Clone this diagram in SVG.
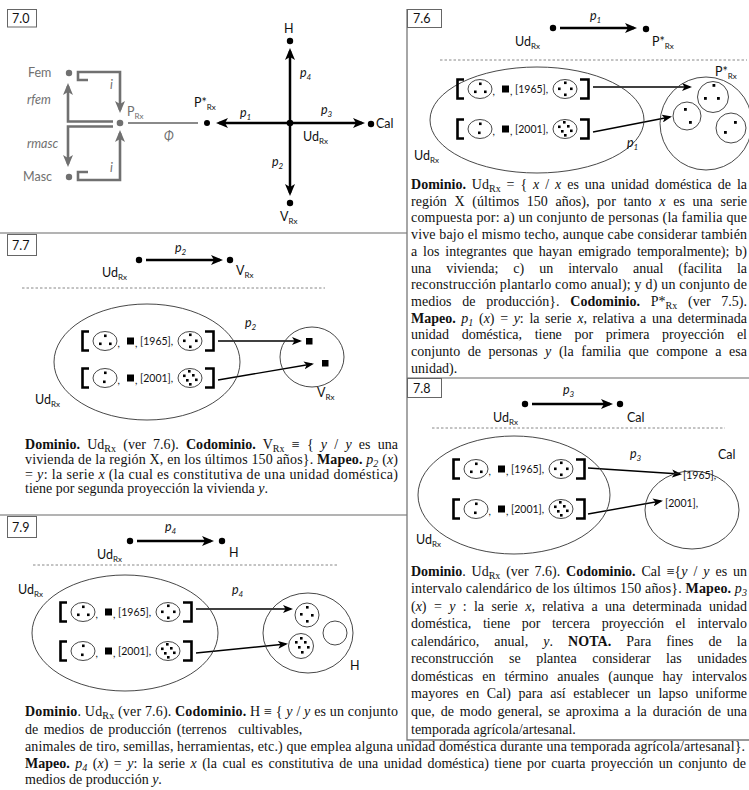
<svg xmlns="http://www.w3.org/2000/svg" width="749" height="790" viewBox="0 0 749 790">
<style>
.s{font-family:Lato,"Liberation Sans","DejaVu Sans",sans-serif;font-size:12.5px;fill:#111}
.gr{fill:#707070}
.i{font-style:italic}
.sb{font-size:8px}
.t{font-family:"Liberation Serif","Times New Roman",serif;font-size:14px;fill:#111}
.b{font-weight:bold}
.tsb{font-size:10px}
.lab{fill:none;stroke:#666;stroke-width:1}
.frame{fill:none;stroke:#777;stroke-width:1.3}
.sep{fill:none;stroke:#9a9a9a;stroke-width:1.6}
.dash{fill:none;stroke:#888;stroke-width:1;stroke-dasharray:2.5 2}
.k{fill:none;stroke:#000;stroke-width:2.5}
.kt{fill:none;stroke:#000;stroke-width:1.4}
.gl{fill:none;stroke:#707070;stroke-width:2.6}
.phi{fill:none;stroke:#8a8a8a;stroke-width:2}
.el{fill:none;stroke:#333;stroke-width:0.9}
.sc{fill:#fff;stroke:#333;stroke-width:0.9}
.br{fill:none;stroke:#000;stroke-width:2.6}
.num{font-family:Lato,"Liberation Sans",sans-serif;font-size:10.5px;fill:#111}
</style>
<defs>
<marker id="mk" viewBox="0 0 12 10" refX="9" refY="5" markerWidth="12" markerHeight="10" markerUnits="userSpaceOnUse" orient="auto"><path d="M0,0L12,5L0,10L3,5z" fill="#000"/></marker>
<marker id="mt" viewBox="0 0 10 8" refX="8" refY="4" markerWidth="10" markerHeight="8" markerUnits="userSpaceOnUse" orient="auto"><path d="M0,0L10,4L0,8L2.5,4z" fill="#000"/></marker>
<marker id="mg" viewBox="0 0 12 10" refX="9" refY="5" markerWidth="12" markerHeight="10" markerUnits="userSpaceOnUse" orient="auto"><path d="M0,0L12,5L0,10L3,5z" fill="#707070"/></marker>
<g id="tA">
<path class="br" d="M9,-9.5H2.5V9.5H9"/>
<ellipse class="sc" cx="25" cy="0" rx="12" ry="9.5"/>
<rect x="24" y="-6.5" width="2.6" height="2.6"/><rect x="19" y="1.5" width="2.6" height="2.6"/><rect x="29" y="1.5" width="2.6" height="2.6"/>
<text class="num" x="37.5" y="6">,</text>
<rect x="47" y="-3.5" width="7" height="7"/>
<text class="num" x="55" y="6">,</text>
<text class="num" x="60" y="4">[1965],</text>
<ellipse class="sc" cx="110" cy="0" rx="12" ry="9.5"/>
<rect x="109" y="-7.5" width="2.6" height="2.6"/><rect x="103" y="-1.5" width="2.6" height="2.6"/><rect x="115" y="-1.5" width="2.6" height="2.6"/><rect x="109" y="4.5" width="2.6" height="2.6"/>
<path class="br" d="M125,-9.5H133.5V9.5H125"/>
</g>
<g id="tB">
<path class="br" d="M9,-9.5H2.5V9.5H9"/>
<ellipse class="sc" cx="25" cy="0" rx="12" ry="9.5"/>
<rect x="24" y="-6.5" width="2.6" height="2.6"/><rect x="23" y="2.5" width="2.6" height="2.6"/>
<text class="num" x="37.5" y="6">,</text>
<rect x="47" y="-3.5" width="7" height="7"/>
<text class="num" x="55" y="6">,</text>
<text class="num" x="60" y="4">[2001],</text>
<ellipse class="sc" cx="110" cy="0" rx="12" ry="9.5"/>
<rect x="108" y="-8" width="2.6" height="2.6"/><rect x="103" y="-3.5" width="2.6" height="2.6"/><rect x="112" y="-4" width="2.6" height="2.6"/><rect x="115" y="0.5" width="2.6" height="2.6"/><rect x="106" y="1" width="2.6" height="2.6"/><rect x="109" y="5" width="2.6" height="2.6"/>
<path class="br" d="M125,-9.5H133.5V9.5H125"/>
</g>
</defs>
<rect width="749" height="790" fill="#fff"/>

<g id="frames">
<path class="sep" d="M0,233H407M0,515H407M407,378H749"/>
<path class="frame" d="M407,9V740H749"/>
</g>

<g id="connectors">
<path class="gl" d="M88,80H78V72H120V110" marker-end="url(#mg)"/>
<path class="gl" d="M88,172H78V180H120V133" marker-end="url(#mg)"/>
<path class="gl" d="M113,121.5H68V86" marker-end="url(#mg)"/>
<path class="gl" d="M113,126.5H68V164" marker-end="url(#mg)"/>
<path class="phi" d="M128,123H198"/>
<path class="k" d="M287,123H219" marker-end="url(#mk)"/>
<path class="k" d="M290,120V51" marker-end="url(#mk)"/>
<path class="k" d="M293,123H362" marker-end="url(#mk)"/>
<path class="k" d="M290,126V193" marker-end="url(#mk)"/>
<path class="k" d="M146,260H220" marker-end="url(#mk)"/>
<path class="kt" d="M218,341H300" marker-end="url(#mt)"/>
<path class="kt" d="M218,380L312,364" marker-end="url(#mt)"/>
<path class="k" d="M137,541H211" marker-end="url(#mk)"/>
<path class="kt" d="M196,609H291" marker-end="url(#mt)"/>
<path class="kt" d="M196,653L286,644" marker-end="url(#mt)"/>
<path class="k" d="M560,28H634" marker-end="url(#mk)"/>
<path class="kt" d="M593,87H690" marker-end="url(#mt)"/>
<path class="kt" d="M593,132L670,117" marker-end="url(#mt)"/>
<path class="k" d="M532,404H610" marker-end="url(#mk)"/>
<path class="kt" d="M588,468L680,474" marker-end="url(#mt)"/>
<path class="kt" d="M588,514L661,501" marker-end="url(#mt)"/>
</g>

<g id="p70">
<rect class="lab" x="7.5" y="9.5" width="29" height="17.5"/>
<text class="s" x="12" y="23">7.0</text>
<g id="n-fem"><text class="s gr" x="28" y="77">Fem</text><circle cx="69" cy="73" r="3.2" fill="#707070"/></g>
<g id="n-masc"><text class="s gr" x="23" y="181">Masc</text><circle cx="69" cy="177" r="3.2" fill="#707070"/></g>
<g id="n-prx"><circle cx="120" cy="123" r="3.3" fill="#707070"/><text class="s gr" x="127" y="116">P<tspan class="sb" dy="2.5">Rx</tspan></text></g>
<g id="n-pstar"><circle cx="207" cy="123" r="3"/><text class="s" x="194" y="107">P*<tspan class="sb" dy="3">Rx</tspan></text></g>
<g id="n-ud"><circle cx="290" cy="123" r="3.3"/><text class="s" x="303" y="141">Ud<tspan class="sb" dy="3">Rx</tspan></text></g>
<g id="n-h"><circle cx="290" cy="41" r="3.2"/><text class="s" x="284" y="33">H</text></g>
<g id="n-cal"><circle cx="371" cy="124" r="3.2"/><text class="s" x="376" y="128">Cal</text></g>
<g id="n-v"><circle cx="290" cy="203" r="3.2"/><text class="s" x="280" y="221">V<tspan class="sb" dy="3">Rx</tspan></text></g>
<text class="s gr i" x="27" y="104">rfem</text>
<text class="s gr i" x="27" y="148">rmasc</text>
<text class="s gr i" x="110" y="89">i</text>
<text class="s gr i" x="110" y="172">i</text>
<text class="s gr i" x="164" y="141">Φ</text>
<text class="s i" x="240" y="117">p<tspan class="sb" dy="3">1</tspan></text>
<text class="s i" x="300" y="77">p<tspan class="sb" dy="3">4</tspan></text>
<text class="s i" x="321" y="114">p<tspan class="sb" dy="3">3</tspan></text>
<text class="s i" x="272" y="166">p<tspan class="sb" dy="3">2</tspan></text>
</g>

<g id="p77">
<rect class="lab" x="7.5" y="234.5" width="29" height="21"/>
<text class="s" x="12" y="250">7.7</text>
<text class="s i" x="175" y="252">p<tspan class="sb" dy="3">2</tspan></text>
<circle cx="139" cy="260" r="3.2"/><circle cx="230" cy="260" r="3.2"/>
<text class="s" x="102" y="277">Ud<tspan class="sb" dy="3">Rx</tspan></text>
<text class="s" x="236" y="275">V<tspan class="sb" dy="3">Rx</tspan></text>
<path class="dash" d="M22,288H325"/>
<g id="ud77"><ellipse class="el" cx="147" cy="362" rx="93" ry="58"/>
<use href="#tA" x="80" y="341"/><use href="#tB" x="80" y="378"/>
<text class="s" x="35" y="404">Ud<tspan class="sb" dy="3">Rx</tspan></text></g>
<g id="v77"><ellipse class="el" cx="312" cy="357" rx="32" ry="30"/>
<rect x="306" y="338" width="6.5" height="6.5"/><rect x="322" y="360" width="6.5" height="6.5"/>
<text class="s" x="317" y="397">V<tspan class="sb" dy="3">Rx</tspan></text></g>
<text class="s i" x="245" y="327">p<tspan class="sb" dy="3">2</tspan></text>
<text class="t" x="25" y="449" textLength="373" lengthAdjust="spacing" word-spacing="3.7"><tspan class="b">Dominio.</tspan> Ud<tspan class="tsb" dy="3">Rx</tspan><tspan dy="-3"> (ver 7.6). </tspan><tspan class="b">Codominio.</tspan> V<tspan class="tsb" dy="3">Rx</tspan><tspan dy="-3"> ≡ { </tspan><tspan class="i">y</tspan> / <tspan class="i">y</tspan> es una</text>
<text class="t" x="25" y="464" textLength="373" lengthAdjust="spacing">vivienda de la región X, en los últimos 150 años}. <tspan class="b">Mapeo.</tspan> <tspan class="i">p</tspan><tspan class="tsb i" dy="3">2</tspan><tspan dy="-3"> (</tspan><tspan class="i">x</tspan>)</text>
<text class="t" x="25" y="478.5" textLength="373" lengthAdjust="spacing">= <tspan class="i">y</tspan>: la serie <tspan class="i">x</tspan> (la cual es constitutiva de una unidad doméstica)</text>
<text class="t" x="25" y="493">tiene por segunda proyección la vivienda <tspan class="i">y</tspan>.</text>
</g>

<g id="p79">
<rect class="lab" x="7.5" y="516.5" width="29" height="21"/>
<text class="s" x="12" y="532">7.9</text>
<text class="s i" x="165" y="531">p<tspan class="sb" dy="3">4</tspan></text>
<circle cx="130" cy="541" r="3.2"/><circle cx="222" cy="541" r="3.2"/>
<text class="s" x="97" y="559">Ud<tspan class="sb" dy="3">Rx</tspan></text>
<text class="s" x="229" y="557">H</text>
<path class="dash" d="M33,565H337"/>
<g id="ud79"><ellipse class="el" cx="125" cy="633" rx="93" ry="58"/>
<use href="#tA" x="58" y="612"/><use href="#tB" x="58" y="651"/>
<text class="s" x="18" y="594">Ud<tspan class="sb" dy="3">Rx</tspan></text></g>
<g id="h79"><ellipse class="el" cx="308" cy="633" rx="45" ry="40"/>
<circle class="el" cx="307" cy="615" r="12"/>
<rect x="306" y="606" width="2.6" height="2.6"/><rect x="300" y="613" width="2.6" height="2.6"/><rect x="311" y="614" width="2.6" height="2.6"/><rect x="306" y="620" width="2.6" height="2.6"/>
<circle class="el" cx="301" cy="646" r="12.5"/>
<rect x="300" y="637" width="2.6" height="2.6"/><rect x="295" y="641" width="2.6" height="2.6"/><rect x="304" y="641" width="2.6" height="2.6"/><rect x="307" y="646" width="2.6" height="2.6"/><rect x="298" y="646" width="2.6" height="2.6"/><rect x="301" y="651" width="2.6" height="2.6"/>
<circle class="el" cx="335" cy="633" r="12"/>
<text class="s" x="350" y="670">H</text></g>
<text class="s i" x="232" y="594">p<tspan class="sb" dy="3">4</tspan></text>
<text class="t" x="25" y="716" textLength="373" lengthAdjust="spacing"><tspan class="b">Dominio</tspan>. Ud<tspan class="tsb" dy="3">Rx</tspan><tspan dy="-3"> (ver 7.6). </tspan><tspan class="b">Codominio.</tspan> H ≡ { <tspan class="i">y</tspan> / <tspan class="i">y</tspan> es un conjunto</text>
<text class="t" x="25" y="733.5" word-spacing="2">de medios de producción (terrenos</text>
<text class="t" x="238" y="733.5">cultivables,</text>
<text class="t" x="25" y="751" textLength="720" lengthAdjust="spacing">animales de tiro, semillas, herramientas, etc.) que emplea alguna unidad doméstica durante una temporada agrícola/artesanal}.</text>
<text class="t" x="25" y="767.5" textLength="721" lengthAdjust="spacing" word-spacing="2"><tspan class="b">Mapeo.</tspan> <tspan class="i">p</tspan><tspan class="tsb i" dy="3">4</tspan><tspan dy="-3"> (</tspan><tspan class="i">x</tspan>) = <tspan class="i">y</tspan>: la serie <tspan class="i">x</tspan> (la cual es constitutiva de una unidad doméstica) tiene por cuarta proyección un conjunto de</text>
<text class="t" x="25" y="784">medios de producción <tspan class="i">y</tspan>.</text>
</g>

<g id="p76">
<rect class="lab" x="407.5" y="9.5" width="34" height="18"/>
<text class="s" x="413" y="23">7.6</text>
<text class="s i" x="590" y="20">p<tspan class="sb" dy="3">1</tspan></text>
<circle cx="553" cy="28" r="3.2"/><circle cx="646" cy="29" r="3.2"/>
<text class="s" x="515" y="46">Ud<tspan class="sb" dy="3">Rx</tspan></text>
<text class="s" x="652" y="46">P*<tspan class="sb" dy="3">Rx</tspan></text>
<path class="dash" d="M440,60H747"/>
<g id="ud76"><ellipse class="el" cx="537" cy="120" rx="107" ry="53"/>
<use href="#tA" x="455" y="89"/><use href="#tB" x="455" y="129"/>
<text class="s" x="414" y="160">Ud<tspan class="sb" dy="3">Rx</tspan></text></g>
<g id="ps76"><ellipse class="el" cx="706" cy="123.5" rx="46" ry="46.5"/>
<circle class="el" cx="713" cy="97" r="15.5"/>
<rect x="712.5" y="84" width="2.8" height="2.8"/><rect x="704" y="97" width="2.8" height="2.8"/><rect x="717" y="97" width="2.8" height="2.8"/>
<circle class="el" cx="687" cy="116" r="14"/>
<rect x="684" y="108" width="2.8" height="2.8"/><rect x="689" y="121" width="2.8" height="2.8"/>
<circle class="el" cx="731" cy="128" r="15"/>
<rect x="734" y="121" width="2.8" height="2.8"/><rect x="724" y="131" width="2.8" height="2.8"/>
<text class="s" x="715" y="76">P*<tspan class="sb" dy="3">Rx</tspan></text></g>
<text class="s i" x="627" y="147">p<tspan class="sb" dy="3">1</tspan></text>
<text class="t" x="411" y="189" textLength="336" lengthAdjust="spacing" word-spacing="2.4"><tspan class="b">Dominio.</tspan> Ud<tspan class="tsb" dy="3">Rx</tspan><tspan dy="-3"> = { </tspan><tspan class="i">x</tspan> / <tspan class="i">x</tspan> es una unidad doméstica de la</text>
<text class="t" x="411" y="205.7" textLength="336" lengthAdjust="spacing" word-spacing="4.2">región X (últimos 150 años), por tanto <tspan class="i">x</tspan> es una serie</text>
<text class="t" x="411" y="222.4" textLength="336" lengthAdjust="spacing">compuesta por: a) un conjunto de personas (la familia que</text>
<text class="t" x="411" y="239.1" textLength="336" lengthAdjust="spacing">vive bajo el mismo techo, aunque cabe considerar también</text>
<text class="t" x="411" y="255.8" textLength="336" lengthAdjust="spacing" word-spacing="2.4">a los integrantes que hayan emigrado temporalmente); b)</text>
<text class="t" x="411" y="272.5" textLength="336" lengthAdjust="spacing" word-spacing="11.5">una vivienda; c) un intervalo anual (facilita la</text>
<text class="t" x="411" y="289.2" textLength="336" lengthAdjust="spacing">reconstrucción plantarlo como anual); y d) un conjunto de</text>
<text class="t" x="411" y="305.9" textLength="336" lengthAdjust="spacing" word-spacing="7.2">medios de producción}. <tspan class="b">Codominio.</tspan> P*<tspan class="tsb" dy="3">Rx</tspan><tspan dy="-3"> (ver 7.5).</tspan></text>
<text class="t" x="411" y="322.6" textLength="336" lengthAdjust="spacing" word-spacing="2.1"><tspan class="b">Mapeo.</tspan> <tspan class="i">p</tspan><tspan class="tsb i" dy="3">1</tspan><tspan dy="-3"> (</tspan><tspan class="i">x</tspan>) = <tspan class="i">y</tspan>: la serie <tspan class="i">x</tspan>, relativa a una determinada</text>
<text class="t" x="411" y="339.3" textLength="336" lengthAdjust="spacing" word-spacing="9.2">unidad doméstica, tiene por primera proyección el</text>
<text class="t" x="411" y="356" textLength="336" lengthAdjust="spacing" word-spacing="4">conjunto de personas <tspan class="i">y</tspan> (la familia que compone a esa</text>
<text class="t" x="411" y="372.5">unidad).</text>
</g>

<g id="p78">
<rect class="lab" x="407.5" y="378.5" width="34" height="19"/>
<text class="s" x="413" y="393">7.8</text>
<text class="s i" x="563" y="394">p<tspan class="sb" dy="3">3</tspan></text>
<circle cx="525" cy="404" r="3.2"/><circle cx="620" cy="404" r="3.2"/>
<text class="s" x="493" y="422">Ud<tspan class="sb" dy="3">Rx</tspan></text>
<text class="s" x="627" y="422">Cal</text>
<path class="dash" d="M432,428H725"/>
<g id="ud78"><ellipse class="el" cx="514" cy="495" rx="96" ry="59"/>
<use href="#tA" x="451" y="469"/><use href="#tB" x="451" y="509"/>
<text class="s" x="416" y="544">Ud<tspan class="sb" dy="3">Rx</tspan></text></g>
<g id="cal78"><ellipse class="el" cx="692" cy="510" rx="47" ry="39"/>
<text class="num" x="683" y="479" font-size="11">[1965],</text>
<text class="num" x="665" y="507" font-size="11">[2001],</text>
<text class="s" x="718" y="459">Cal</text></g>
<text class="s i" x="630" y="458">p<tspan class="sb" dy="3">3</tspan></text>
<text class="t" x="411" y="575.5" textLength="336" lengthAdjust="spacing" word-spacing="2.5"><tspan class="b">Dominio</tspan>. Ud<tspan class="tsb" dy="3">Rx</tspan><tspan dy="-3"> (ver 7.6). </tspan><tspan class="b">Codominio.</tspan> Cal ≡{<tspan class="i">y</tspan> / <tspan class="i">y</tspan> es un</text>
<text class="t" x="411" y="593" textLength="336" lengthAdjust="spacing">intervalo calendárico de los últimos 150 años}. <tspan class="b">Mapeo.</tspan> <tspan class="i">p</tspan><tspan class="tsb i" dy="3">3</tspan></text>
<text class="t" x="411" y="610.6" textLength="336" lengthAdjust="spacing" word-spacing="3.9">(<tspan class="i">x</tspan>) = <tspan class="i">y</tspan> : la serie <tspan class="i">x</tspan>, relativa a una determinada unidad</text>
<text class="t" x="411" y="628.2" textLength="336" lengthAdjust="spacing" word-spacing="8.1">doméstica, tiene por tercera proyección el intervalo</text>
<text class="t" x="411" y="645.7" textLength="336" lengthAdjust="spacing" word-spacing="11.5">calendárico, anual, <tspan class="i">y</tspan>. <tspan class="b">NOTA.</tspan> Para fines de la</text>
<text class="t" x="411" y="663.3" textLength="336" lengthAdjust="spacing" word-spacing="12">reconstrucción se plantea considerar las unidades</text>
<text class="t" x="411" y="680.8" textLength="336" lengthAdjust="spacing" word-spacing="5.6">domésticas en término anuales (aunque hay intervalos</text>
<text class="t" x="411" y="698.4" textLength="336" lengthAdjust="spacing" word-spacing="4">mayores en Cal) para así establecer un lapso uniforme</text>
<text class="t" x="411" y="715.9" textLength="336" lengthAdjust="spacing" word-spacing="2.4">que, de modo general, se aproxima a la duración de una</text>
<text class="t" x="411" y="733.5">temporada agrícola/artesanal.</text>
</g>
</svg>
